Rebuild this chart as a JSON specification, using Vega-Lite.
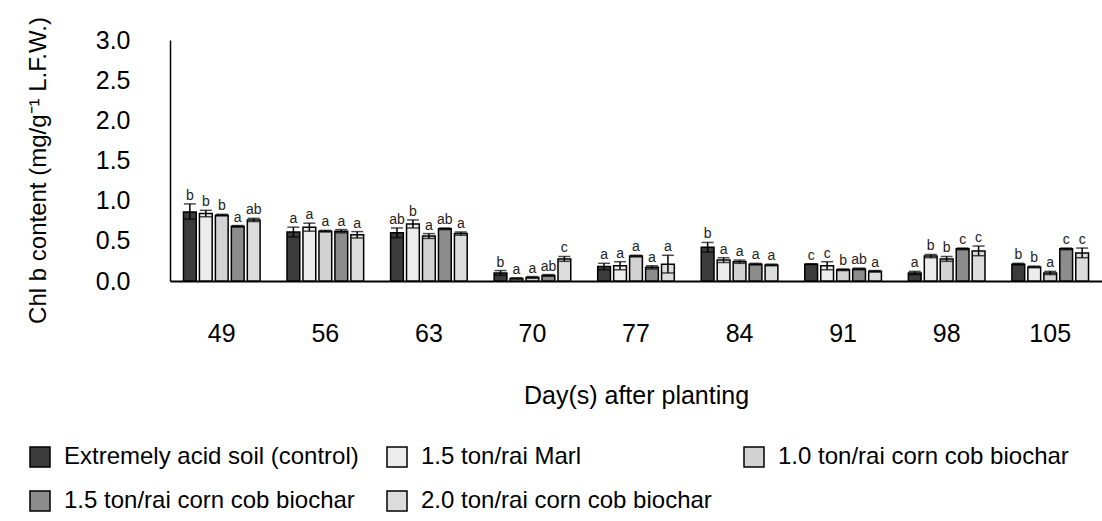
{
  "$schema": "https://vega.github.io/schema/vega-lite/v6.json",
  "width": 932,
  "height": 241,
  "autosize": {"type": "none"},
  "padding": {"left": 170, "top": 40, "right": 0, "bottom": 240},
  "background": "white",
  "config": {
    "font": "Liberation Sans",
    "view": {"stroke": null},
    "axis": {"grid": false, "labelColor": "black", "titleColor": "black", "titleFontWeight": "normal", "domainColor": "black"}
  },
  "datasets": {
    "chl": [
      {"day": 49, "trt": "Extremely acid soil (control)", "v": 0.86, "lo": 0.77, "hi": 0.96, "sig": "b"},
      {"day": 49, "trt": "1.5 ton/rai Marl", "v": 0.84, "lo": 0.80, "hi": 0.88, "sig": "b"},
      {"day": 49, "trt": "1.0 ton/rai corn cob biochar", "v": 0.82, "lo": 0.81, "hi": 0.83, "sig": "b"},
      {"day": 49, "trt": "1.5 ton/rai corn cob biochar", "v": 0.68, "lo": 0.67, "hi": 0.69, "sig": "a"},
      {"day": 49, "trt": "2.0 ton/rai corn cob biochar", "v": 0.76, "lo": 0.74, "hi": 0.78, "sig": "ab"},
      {"day": 56, "trt": "Extremely acid soil (control)", "v": 0.61, "lo": 0.55, "hi": 0.67, "sig": "a"},
      {"day": 56, "trt": "1.5 ton/rai Marl", "v": 0.67, "lo": 0.62, "hi": 0.72, "sig": "a"},
      {"day": 56, "trt": "1.0 ton/rai corn cob biochar", "v": 0.62, "lo": 0.61, "hi": 0.63, "sig": "a"},
      {"day": 56, "trt": "1.5 ton/rai corn cob biochar", "v": 0.62, "lo": 0.60, "hi": 0.64, "sig": "a"},
      {"day": 56, "trt": "2.0 ton/rai corn cob biochar", "v": 0.575, "lo": 0.535, "hi": 0.615, "sig": "a"},
      {"day": 63, "trt": "Extremely acid soil (control)", "v": 0.60, "lo": 0.54, "hi": 0.66, "sig": "ab"},
      {"day": 63, "trt": "1.5 ton/rai Marl", "v": 0.71, "lo": 0.66, "hi": 0.76, "sig": "b"},
      {"day": 63, "trt": "1.0 ton/rai corn cob biochar", "v": 0.56, "lo": 0.53, "hi": 0.59, "sig": "a"},
      {"day": 63, "trt": "1.5 ton/rai corn cob biochar", "v": 0.65, "lo": 0.64, "hi": 0.66, "sig": "ab"},
      {"day": 63, "trt": "2.0 ton/rai corn cob biochar", "v": 0.59, "lo": 0.57, "hi": 0.61, "sig": "a"},
      {"day": 70, "trt": "Extremely acid soil (control)", "v": 0.10, "lo": 0.07, "hi": 0.13, "sig": "b"},
      {"day": 70, "trt": "1.5 ton/rai Marl", "v": 0.03, "lo": 0.02, "hi": 0.04, "sig": "a"},
      {"day": 70, "trt": "1.0 ton/rai corn cob biochar", "v": 0.045, "lo": 0.035, "hi": 0.055, "sig": "a"},
      {"day": 70, "trt": "1.5 ton/rai corn cob biochar", "v": 0.07, "lo": 0.06, "hi": 0.08, "sig": "ab"},
      {"day": 70, "trt": "2.0 ton/rai corn cob biochar", "v": 0.275, "lo": 0.245, "hi": 0.305, "sig": "c"},
      {"day": 77, "trt": "Extremely acid soil (control)", "v": 0.18, "lo": 0.14, "hi": 0.22, "sig": "a"},
      {"day": 77, "trt": "1.5 ton/rai Marl", "v": 0.19, "lo": 0.14, "hi": 0.24, "sig": "a"},
      {"day": 77, "trt": "1.0 ton/rai corn cob biochar", "v": 0.31, "lo": 0.30, "hi": 0.32, "sig": "a"},
      {"day": 77, "trt": "1.5 ton/rai corn cob biochar", "v": 0.17, "lo": 0.15, "hi": 0.19, "sig": "a"},
      {"day": 77, "trt": "2.0 ton/rai corn cob biochar", "v": 0.21, "lo": 0.10, "hi": 0.32, "sig": "a"},
      {"day": 84, "trt": "Extremely acid soil (control)", "v": 0.42, "lo": 0.36, "hi": 0.48, "sig": "b"},
      {"day": 84, "trt": "1.5 ton/rai Marl", "v": 0.26, "lo": 0.23, "hi": 0.29, "sig": "a"},
      {"day": 84, "trt": "1.0 ton/rai corn cob biochar", "v": 0.24, "lo": 0.22, "hi": 0.26, "sig": "a"},
      {"day": 84, "trt": "1.5 ton/rai corn cob biochar", "v": 0.21, "lo": 0.20, "hi": 0.22, "sig": "a"},
      {"day": 84, "trt": "2.0 ton/rai corn cob biochar", "v": 0.20, "lo": 0.19, "hi": 0.21, "sig": "a"},
      {"day": 91, "trt": "Extremely acid soil (control)", "v": 0.21, "lo": 0.205, "hi": 0.215, "sig": "c"},
      {"day": 91, "trt": "1.5 ton/rai Marl", "v": 0.19, "lo": 0.14, "hi": 0.24, "sig": "c"},
      {"day": 91, "trt": "1.0 ton/rai corn cob biochar", "v": 0.14, "lo": 0.13, "hi": 0.15, "sig": "b"},
      {"day": 91, "trt": "1.5 ton/rai corn cob biochar", "v": 0.15, "lo": 0.14, "hi": 0.16, "sig": "ab"},
      {"day": 91, "trt": "2.0 ton/rai corn cob biochar", "v": 0.12, "lo": 0.11, "hi": 0.13, "sig": "a"},
      {"day": 98, "trt": "Extremely acid soil (control)", "v": 0.10, "lo": 0.08, "hi": 0.12, "sig": "a"},
      {"day": 98, "trt": "1.5 ton/rai Marl", "v": 0.31, "lo": 0.29, "hi": 0.33, "sig": "b"},
      {"day": 98, "trt": "1.0 ton/rai corn cob biochar", "v": 0.275, "lo": 0.245, "hi": 0.305, "sig": "b"},
      {"day": 98, "trt": "1.5 ton/rai corn cob biochar", "v": 0.40, "lo": 0.39, "hi": 0.41, "sig": "c"},
      {"day": 98, "trt": "2.0 ton/rai corn cob biochar", "v": 0.375, "lo": 0.315, "hi": 0.435, "sig": "c"},
      {"day": 105, "trt": "Extremely acid soil (control)", "v": 0.21, "lo": 0.20, "hi": 0.22, "sig": "b"},
      {"day": 105, "trt": "1.5 ton/rai Marl", "v": 0.175, "lo": 0.165, "hi": 0.185, "sig": "b"},
      {"day": 105, "trt": "1.0 ton/rai corn cob biochar", "v": 0.10, "lo": 0.08, "hi": 0.12, "sig": "a"},
      {"day": 105, "trt": "1.5 ton/rai corn cob biochar", "v": 0.40, "lo": 0.39, "hi": 0.41, "sig": "c"},
      {"day": 105, "trt": "2.0 ton/rai corn cob biochar", "v": 0.35, "lo": 0.29, "hi": 0.41, "sig": "c"}
    ]
  },
  "data": {"name": "chl"},
  "encoding": {
    "x": {
      "field": "day",
      "type": "ordinal",
      "sort": [49, 56, 63, 70, 77, 84, 91, 98, 105],
      "scale": {"paddingInner": 0.26, "paddingOuter": 0.13},
      "axis": {
        "title": "Day(s) after planting",
        "labelAngle": 0,
        "ticks": false,
        "labelPadding": 40,
        "labelFontSize": 25,
        "domainWidth": 2,
        "titleFontSize": 25,
        "titlePadding": 37
      }
    },
    "xOffset": {
      "field": "trt",
      "type": "nominal",
      "sort": ["Extremely acid soil (control)", "1.5 ton/rai Marl", "1.0 ton/rai corn cob biochar", "1.5 ton/rai corn cob biochar", "2.0 ton/rai corn cob biochar"],
      "scale": {"paddingInner": 0.2, "paddingOuter": 0}
    }
  },
  "layer": [
    {
      "mark": {"type": "bar", "stroke": "black", "strokeWidth": 1.5},
      "encoding": {
        "y": {
          "field": "v",
          "type": "quantitative",
          "scale": {"domain": [0, 3], "nice": false},
          "axis": {
            "title": "Chl b content (mg/g⁻¹ L.F.W.)",
            "values": [0, 0.5, 1, 1.5, 2, 2.5, 3],
            "format": ".1f",
            "ticks": false,
            "labelPadding": 40,
            "labelFontSize": 25,
            "domainWidth": 1.5,
            "titleFontSize": 24,
            "titleX": -125,
            "titleY": 130,
            "titleBaseline": "alphabetic"
          }
        },
        "fill": {
          "field": "trt",
          "type": "nominal",
          "sort": ["Extremely acid soil (control)", "1.5 ton/rai Marl", "1.0 ton/rai corn cob biochar", "1.5 ton/rai corn cob biochar", "2.0 ton/rai corn cob biochar"],
          "scale": {
            "domain": ["Extremely acid soil (control)", "1.5 ton/rai Marl", "1.0 ton/rai corn cob biochar", "1.5 ton/rai corn cob biochar", "2.0 ton/rai corn cob biochar"],
            "range": ["#3c3c3c", "#ececec", "#d2d2d2", "#8c8c8c", "#dcdcdc"]
          },
          "legend": {
            "title": null,
            "orient": "none",
            "direction": "horizontal",
            "legendX": -142,
            "legendY": 405,
            "columns": 3,
            "gridAlign": "all",
            "columnPadding": 25,
            "rowPadding": 18,
            "padding": 0,
            "symbolType": "square",
            "symbolSize": 400,
            "symbolStrokeColor": "black",
            "symbolStrokeWidth": 1.5,
            "symbolOpacity": 1,
            "labelFontSize": 24,
            "labelColor": "black",
            "labelLimit": 0,
            "labelOffset": 12
          }
        }
      }
    },
    {
      "mark": {"type": "rule", "color": "black", "strokeWidth": 1.5},
      "encoding": {
        "y": {"field": "lo", "type": "quantitative"},
        "y2": {"field": "hi"}
      }
    },
    {
      "mark": {"type": "tick", "orient": "horizontal", "color": "black", "size": 12, "thickness": 1.5},
      "encoding": {"y": {"field": "hi", "type": "quantitative"}}
    },
    {
      "mark": {"type": "tick", "orient": "horizontal", "color": "black", "size": 12, "thickness": 1.5},
      "encoding": {"y": {"field": "lo", "type": "quantitative"}}
    },
    {
      "mark": {"type": "text", "baseline": "alphabetic", "dy": -4, "fontSize": 14, "color": "#222222"},
      "encoding": {
        "y": {"field": "hi", "type": "quantitative"},
        "text": {"field": "sig"}
      }
    }
  ]
}
